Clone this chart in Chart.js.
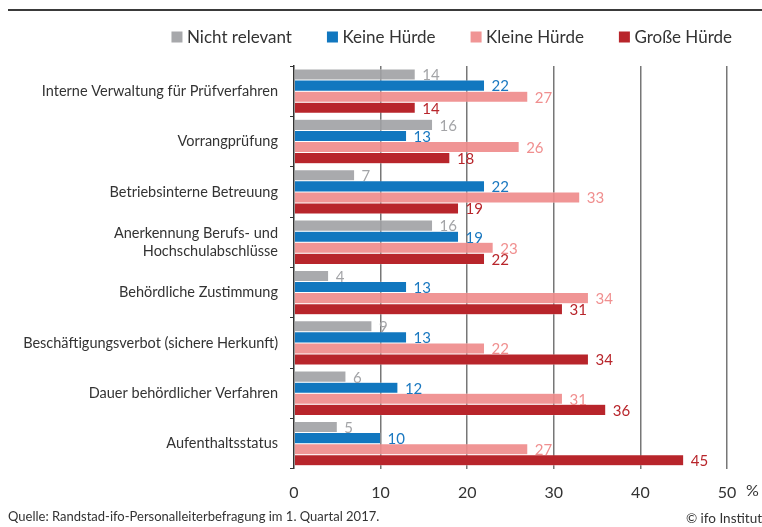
<!DOCTYPE html>
<html lang="de">
<head>
<meta charset="UTF-8">
<script src="https://cdn.jsdelivr.net/npm/chart.js"></script>
<style>
    body { margin: 0; background: #fff; font-family: Lato, sans-serif; }
    .wrap { position: relative; width: 762px; height: 527px; overflow: hidden; }
    .rule { position: absolute; left: 8px; right: 0; top: 9px; border-top: 2px solid #3a3a3a; }
    .chartbox { position: absolute; left: 0; top: 0; width: 762px; height: 527px; }
    .quelle { position: absolute; left: 8px; top: 508px; font-size: 13px; color: #333; }
    .ifo { position: absolute; right: 0; top: 510px; font-size: 13.5px; color: #333; }
</style>
<title>Hürden</title>
</head>
<body>
<div class="wrap">
    <div class="rule"></div>
    <div class="chartbox"><canvas id="myChart"></canvas></div>
    <div class="quelle">Quelle: Randstad-ifo-Personalleiterbefragung im 1. Quartal 2017.</div>
    <div class="ifo">© ifo Institut</div>
</div>

<script>
    // Daten
    const categories = [
        'Interne Verwaltung für Prüfverfahren',
        'Vorrangprüfung',
        'Betriebsinterne Betreuung',
        ['Anerkennung Berufs- und', 'Hochschulabschlüsse'],
        'Behördliche Zustimmung',
        'Beschäftigungsverbot (sichere Herkunft)',
        'Dauer behördlicher Verfahren',
        'Aufenthaltsstatus'
    ];
    const nichtRelevant = [14, 16, 7, 16, 4, 9, 6, 5];
    const keineHuerde   = [22, 13, 22, 19, 13, 13, 12, 10];
    const kleineHuerde  = [27, 26, 33, 23, 34, 22, 31, 27];
    const grosseHuerde  = [14, 18, 19, 22, 31, 34, 36, 45];
    const xTicks = [0, 10, 20, 30, 40, 50];

    const textColor = '#333';

    // Werte rechts neben die Balken schreiben
    const valueLabels = {
        id: 'valueLabels',
        afterDatasetsDraw(chart) {
            const ctx = chart.ctx;
            ctx.save();
            ctx.font = '15px Lato';
            ctx.textBaseline = 'middle';
            ctx.textAlign = 'left';
            chart.data.datasets.forEach((ds, i) => {
                chart.getDatasetMeta(i).data.forEach((bar, j) => {
                    ctx.fillStyle = ds.labelColor;
                    ctx.fillText(ds.data[j], bar.x + 7, bar.y + 1);
                });
            });
            // Prozentzeichen
            const xs = chart.scales.x;
            ctx.font = '16px Lato';
            ctx.fillStyle = textColor;
            ctx.fillText('%', xs.getPixelForValue(50) + 19, chart.chartArea.bottom + 22);
            ctx.restore();
        }
    };

    // eigene Legende: rechtsbündig, feste Abstände zwischen den Einträgen
    const topLegend = {
        id: 'topLegend',
        afterDraw(chart) {
            const ctx = chart.ctx;
            const sets = chart.data.datasets;
            ctx.save();
            ctx.font = '17px Lato';
            ctx.textBaseline = 'middle';
            ctx.textAlign = 'left';
            let right = chart.width - 30;
            const y = 37;
            for (let i = sets.length - 1; i >= 0; i--) {
                const tw = ctx.measureText(sets[i].label).width;
                const tx = right - tw;
                const bx = tx - 4.5 - 11;
                ctx.fillStyle = sets[i].legendColor;
                ctx.fillRect(bx, y - 5.5, 11, 11);
                ctx.fillStyle = textColor;
                ctx.fillText(sets[i].label, tx, y + 1);
                right = bx - 35;
            }
            ctx.restore();
        }
    };

    const data = {
        labels: categories,
        datasets: [
            { label: 'Nicht relevant', data: nichtRelevant, backgroundColor: 'rgba(160,161,164,0.9)', legendColor: '#a7a8ab', labelColor: '#a3a4a7' },
            { label: 'Keine Hürde', data: keineHuerde, backgroundColor: '#1177bf', legendColor: '#1177bf', labelColor: '#1a78c0' },
            { label: 'Kleine Hürde', data: kleineHuerde, backgroundColor: 'rgba(239,140,140,0.92)', legendColor: '#f09595', labelColor: '#f08f8f' },
            { label: 'Große Hürde', data: grosseHuerde, backgroundColor: '#b8252b', legendColor: '#b8252b', labelColor: '#b8252b' }
        ]
    };
    data.datasets.forEach(ds => {
        ds.borderColor = 'rgba(255,255,255,0.6)';
        ds.borderWidth = 0.5;
        ds.barPercentage = 1.0;
        ds.categoryPercentage = 0.88;
    });

    const config = {
        type: 'bar',
        data: data,
        plugins: [valueLabels, topLegend],
        options: {
            indexAxis: 'y',
            responsive: true,
            maintainAspectRatio: false,
            animation: false,
            layout: {
                padding: { left: 0, right: 35, top: 66, bottom: 11 }
            },
            plugins: {
                tooltip: { enabled: false },
                legend: { display: false }
            },
            scales: {
                x: {
                    min: 0,
                    max: 50,
                    afterBuildTicks: (scale) => { scale.ticks = xTicks.map(v => ({ value: v })); },
                    border: { display: false },
                    grid: {
                        color: (c) => c.tick && c.tick.value === 0 ? 'rgba(0,0,0,0)' : '#777',
                        lineWidth: 1.5,
                        drawTicks: false
                    },
                    ticks: {
                        color: textColor,
                        padding: 14,
                        font: { family: 'Lato', size: 16 }
                    }
                },
                y: {
                    afterFit: (scale) => { scale.width = 294; },
                    border: { display: true, color: '#333', width: 1.5 },
                    grid: {
                        offset: true,
                        drawOnChartArea: false,
                        tickLength: 4,
                        color: '#333',
                        lineWidth: 1
                    },
                    ticks: {
                        color: textColor,
                        padding: 12,
                        font: { family: 'Lato', size: 14.5 }
                    }
                }
            }
        }
    };

    new Chart(document.getElementById('myChart').getContext('2d'), config);
</script>
</body>
</html>
